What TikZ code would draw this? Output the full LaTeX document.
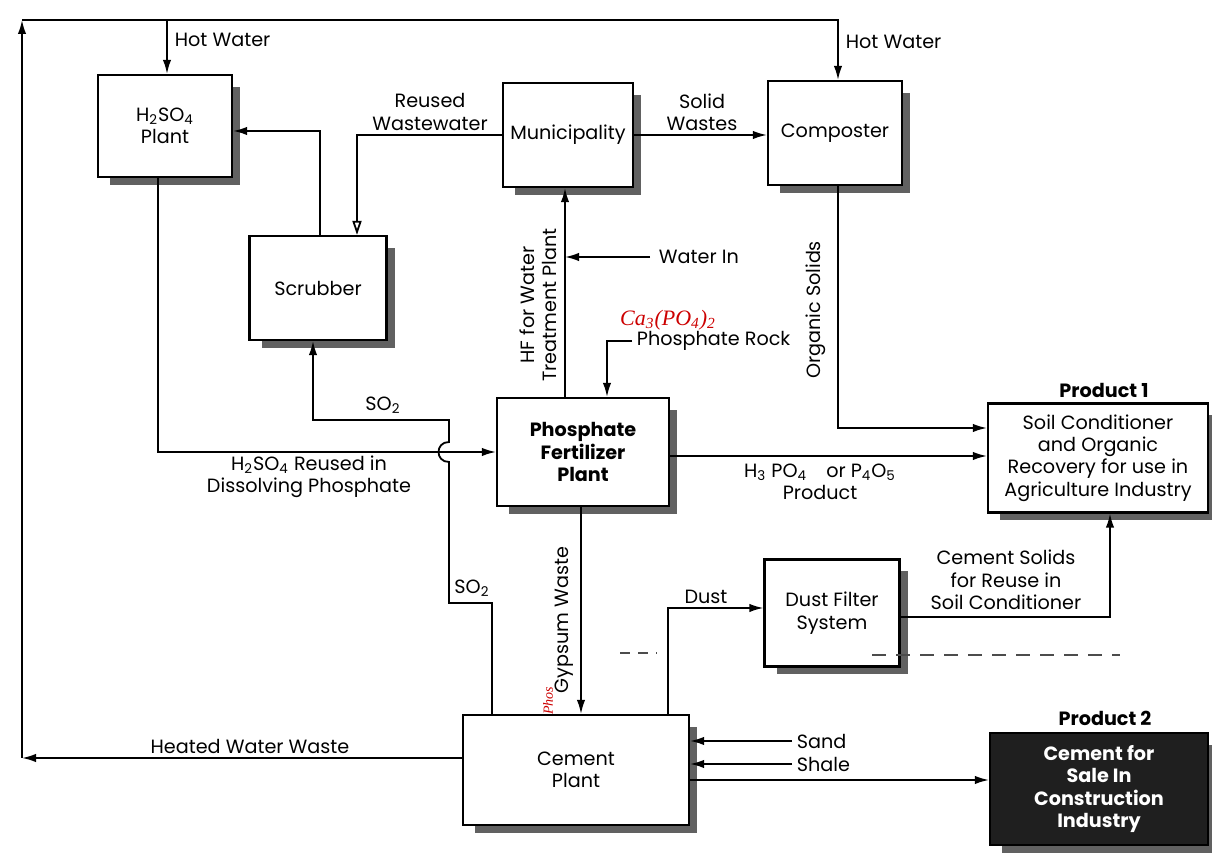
\documentclass[tikz,border=0pt]{standalone}
\usepackage{fontspec}
\setmainfont{Poppins}
\newfontfamily\handfont{Liberation Serif}
\usetikzlibrary{arrows.meta,calc}
\newcommand\dfont{\fontsize{9.6}{11.2}\selectfont}
\begin{document}
\begin{tikzpicture}[x=0.5pt,y=-0.5pt,font=\dfont,line width=0.9pt,
  box/.style={draw,line width=1.1pt,fill=white,align=center,inner sep=0pt},
  sz/.style 2 args={minimum width={(#1)*0.5pt},minimum height={(#2)*0.5pt}},
  flow/.style={-{Latex[length=7pt,width=4.2pt]}},
  oflow/.style={-{Triangle[open,length=7pt,width=4.5pt]}},
  lbl/.style={inner sep=0pt,align=center},
  boxshadow/.style={fill=black!62,draw=none},
  hand/.style={text=red!80!black,font=\handfont\itshape\fontsize{11}{12}\selectfont}]
\useasboundingbox (0,0) rectangle (1212,854);
% shadows (drawn first, from the box geometry)
\foreach \cx/\cy/\w/\h in {165/126/134/102, 568/135/130/104, 835/133/134/104, 318/288/137/104, 583/452/172/108, 1098/458/220/109, 832/613/135/107, 576/770/226/110, 1099/789/218/112}{
  \fill[boxshadow] (\cx-\w/2+12,\cy-\h/2+12) rectangle (\cx+\w/2+8,\cy+\h/2+8);
}
% boxes
\node[box,sz={134}{102}] (h2so4) at (165,126) {H\textsubscript{2}SO\textsubscript{4}\\Plant};
\node[box,sz={130}{104}] (muni) at (568,135) {Municipality};
\node[box,sz={134}{104}] (comp) at (835,133) {Composter};
\node[box,sz={137}{104}] (scrub) at (318,288) {Scrubber};
\node[box,sz={172}{108},font=\dfont\bfseries] (pfp) at (583,452) {Phosphate\\Fertilizer\\Plant};
\node[box,sz={220}{109}] (soil) at (1098,458) {Soil Conditioner\\and Organic\\Recovery for use in\\Agriculture Industry};
\node[box,sz={135}{107}] (dust) at (832,613) {Dust Filter\\System};
\node[box,sz={226}{110}] (cement) at (576,770) {Cement\\Plant};
\node[box,sz={218}{112},fill=black!88,text=white,font=\dfont\bfseries] (prod2) at (1099,789) {Cement for\\Sale In\\Construction\\Industry};
% hot water loop
\coordinate (tl) at (22,20);
\coordinate (bl) at (22,758);
\draw[flow] (cement.west |- bl) -- (bl);
\draw[flow] (bl) -- (tl);
\draw[flow] (tl) -| ($(comp.north)+(3,0)$);
\draw[flow] ($(h2so4.north |- tl)+(2,0)$) -- ($(h2so4.north)+(2,0)$);
\node[lbl,anchor=west] (hw1) at (174,40) {Hot Water};
\node[lbl,anchor=west] (hw2) at (845,42) {Hot Water};
\node[lbl] (hww) at (250,746) {Heated Water Waste};
% reused wastewater
\draw[oflow] (muni.west) -| ($(scrub.north)+(39,0)$);
\node[lbl] (rwl) at (430,112) {Reused\\Wastewater};
% scrubber to H2SO4 plant
\draw[flow] ($(scrub.north)+(2,0)$) |- ($(h2so4.east)+(0,5)$);
% SO2 from cement plant to scrubber
\coordinate (sa) at (492,603);
\coordinate (sb) at (449,603);
\draw[flow] (cement.north -| sa) -- (sa) -- (sb) -- (449,462)
  .. controls (435,462) and (435,442) .. (449,442) -- (449,420)
  -| ($(scrub.south)+(-5,0)$);
\node[lbl] (so2a) at (383,405) {SO\textsubscript{2}};
\node[lbl] (so2b) at (472,588) {SO\textsubscript{2}};
% H2SO4 reused
\draw[flow] ($(h2so4.south)+(-7,0)$) |- (pfp.west);
\node[lbl] (h2l) at (309,477) {H\textsubscript{2}SO\textsubscript{4} Reused in\\Dissolving Phosphate};
% HF
\coordinate (hfx) at (565,300);
\draw[flow] (pfp.north -| hfx) -- (muni.south -| hfx);
\node[lbl,rotate=90] (hfl) at (538,305) {HF for Water\\Treatment Plant};
\node[lbl,anchor=west,inner xsep=4pt] (win) at (650,257) {Water In};
\draw[flow] (win.west) -- (win.west -| hfx);
% phosphate rock
\node[lbl,anchor=west,inner xsep=2pt] (prock) at (632,341) {Phosphate Rock};
\draw[flow] (prock.west) -| ($(pfp.north)+(24,0)$);
\node[hand] (ca) at (668,320) {Ca\textsubscript{3}(PO\textsubscript{4})\textsubscript{2}};
% solid wastes
\draw[flow] (muni.east) -- (comp.west |- muni.east);
\node[lbl] (swl) at (702,112) {Solid\\Wastes};
% organic solids
\draw[flow] ($(comp.south)+(3,0)$) |- ($(soil.west)+(0,-30)$);
\node[lbl,rotate=90] (osl) at (816,310) {Organic Solids};
\node[lbl,font=\dfont\bfseries] (p1) at (1104,390) {Product 1};
% H3PO4
\draw[flow] ($(pfp.east)+(0,4)$) -- ($(soil.west)+(0,-2)$);
\node[lbl] (hpl) at (820,482) {H\textsubscript{3} PO\textsubscript{4}\quad or P\textsubscript{4}O\textsubscript{5}\\Product};
% gypsum
\coordinate (gx) at (581,600);
\draw[flow] (pfp.south -| gx) -- (cement.north -| gx);
\node[lbl,rotate=90] (gyl) at (564,620) {Gypsum Waste};
\node[hand,rotate=90,inner sep=0pt,font=\handfont\itshape\fontsize{7}{8}\selectfont] (ph) at (548,701) {Phos};
% dust
\draw[flow] ($(cement.north)+(92,0)$) |- ($(dust.west)+(0,-5)$);
\node[lbl] (dl) at (706,597) {Dust};
\draw[flow] ($(dust.east)+(0,4)$) -| ($(soil.south)+(12,0)$);
\node[lbl] (csl) at (1006,580) {Cement Solids\\for Reuse in\\Soil Conditioner};
% sand, shale
\node[lbl,anchor=west,inner xsep=2pt] (sand) at (792,741) {Sand};
\node[lbl,anchor=west,inner xsep=2pt] (shale) at (792,764) {Shale};
\draw[flow] (sand.west) -- (sand.west -| cement.east);
\draw[flow] (shale.west) -- (shale.west -| cement.east);
% product 2
\draw[flow] ($(cement.east)+(0,10)$) -- ($(prod2.west)+(0,-9)$);
\node[lbl,font=\dfont\bfseries] (p2) at (1105,718) {Product 2};
% faint dashed marks
\draw[black!70,line width=0.6pt,dash pattern=on 5pt off 4pt] (620,653) -- (657,653);
\draw[black!70,line width=0.6pt,dash pattern=on 7pt off 5pt] (872,655) -- (1120,655);
\end{tikzpicture}
\end{document}
